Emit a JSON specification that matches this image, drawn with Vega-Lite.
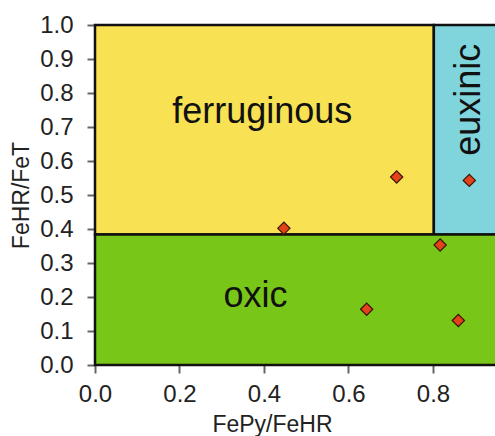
{
  "$schema": "https://vega.github.io/schema/vega-lite/v6.json",
  "autosize": "none",
  "width": 402,
  "height": 340,
  "padding": {"left": 95, "top": 25, "right": 0, "bottom": 71},
  "background": "white",
  "config": {
    "font": "Liberation Sans",
    "view": {"stroke": null},
    "axis": {"grid": false, "domain": false, "tickColor": "#666", "tickWidth": 2, "tickSize": 8, "labelFontSize": 24, "labelColor": "#222", "titleFontSize": 23, "titleFontWeight": "normal", "titleColor": "#222", "labelFont": "Liberation Sans", "titleFont": "Liberation Sans", "labelOverlap": false, "labelBound": false, "labelFlush": false}
  },
  "datasets": {
    "zones": [
      {"zone": "ferruginous", "x0": 0, "x1": 0.802, "y0": 0.384, "y1": 1.0},
      {"zone": "euxinic", "x0": 0.802, "x1": 0.9515, "y0": 0.384, "y1": 1.0},
      {"zone": "oxic", "x0": 0, "x1": 0.9515, "y0": 0, "y1": 0.384}
    ],
    "points": [
      {"fepy": 0.714, "fehr": 0.553},
      {"fepy": 0.886, "fehr": 0.543},
      {"fepy": 0.447, "fehr": 0.402},
      {"fepy": 0.817, "fehr": 0.353},
      {"fepy": 0.643, "fehr": 0.164},
      {"fepy": 0.860, "fehr": 0.131}
    ],
    "labels": [
      {"label": "ferruginous", "lx": 0.396, "ly": 0.712},
      {"label": "oxic", "lx": 0.380, "ly": 0.171}
    ],
    "vlabels": [
      {"label": "euxinic", "lx": 0.911, "ly": 0.78}
    ]
  },
  "layer": [
    {
      "data": {"name": "zones"},
      "mark": {"type": "rect", "stroke": "#111", "strokeWidth": 2.5},
      "encoding": {
        "x": {"field": "x0", "type": "quantitative", "scale": {"domain": [0, 0.9515], "nice": false, "zero": false},
              "axis": {"values": [0, 0.2, 0.4, 0.6, 0.8], "format": ".1f", "title": "FePy/FeHR", "labelPadding": 9, "titlePadding": 7, "titleX": 177}},
        "x2": {"field": "x1"},
        "y": {"field": "y0", "type": "quantitative", "scale": {"domain": [0, 1], "nice": false},
              "axis": {"values": [0, 0.1, 0.2, 0.3, 0.4, 0.5, 0.6, 0.7, 0.8, 0.9, 1.0], "format": ".1f", "title": "FeHR/FeT", "labelPadding": 14, "titlePadding": 6}},
        "y2": {"field": "y1"},
        "color": {"field": "zone", "type": "nominal", "legend": null,
                  "scale": {"domain": ["ferruginous", "euxinic", "oxic"], "range": ["#F8E152", "#80D5DD", "#78C618"]}}
      }
    },
    {
      "data": {"name": "points"},
      "mark": {"type": "point", "shape": "diamond", "filled": true, "fill": "#E2431A", "stroke": "#3a1505", "strokeWidth": 1.2, "size": 150, "opacity": 1},
      "encoding": {
        "x": {"field": "fepy", "type": "quantitative",
              "axis": {"values": [0, 0.2, 0.4, 0.6, 0.8], "format": ".1f", "title": "FePy/FeHR", "labelPadding": 9, "titlePadding": 7, "titleX": 177}},
        "y": {"field": "fehr", "type": "quantitative",
              "axis": {"values": [0, 0.1, 0.2, 0.3, 0.4, 0.5, 0.6, 0.7, 0.8, 0.9, 1.0], "format": ".1f", "title": "FeHR/FeT", "labelPadding": 14, "titlePadding": 6}}
      }
    },
    {
      "data": {"name": "labels"},
      "mark": {"type": "text", "fontSize": 36, "font": "Liberation Sans", "color": "#111", "align": "center", "baseline": "alphabetic"},
      "encoding": {
        "x": {"field": "lx", "type": "quantitative",
              "axis": {"values": [0, 0.2, 0.4, 0.6, 0.8], "format": ".1f", "title": "FePy/FeHR", "labelPadding": 9, "titlePadding": 7, "titleX": 177}},
        "y": {"field": "ly", "type": "quantitative",
              "axis": {"values": [0, 0.1, 0.2, 0.3, 0.4, 0.5, 0.6, 0.7, 0.8, 0.9, 1.0], "format": ".1f", "title": "FeHR/FeT", "labelPadding": 14, "titlePadding": 6}},
        "text": {"field": "label"}
      }
    },
    {
      "data": {"name": "vlabels"},
      "mark": {"type": "text", "fontSize": 36, "font": "Liberation Sans", "color": "#111", "align": "center", "baseline": "alphabetic", "angle": 270},
      "encoding": {
        "x": {"field": "lx", "type": "quantitative",
              "axis": {"values": [0, 0.2, 0.4, 0.6, 0.8], "format": ".1f", "title": "FePy/FeHR", "labelPadding": 9, "titlePadding": 7, "titleX": 177}},
        "y": {"field": "ly", "type": "quantitative",
              "axis": {"values": [0, 0.1, 0.2, 0.3, 0.4, 0.5, 0.6, 0.7, 0.8, 0.9, 1.0], "format": ".1f", "title": "FeHR/FeT", "labelPadding": 14, "titlePadding": 6}},
        "text": {"field": "label"}
      }
    }
  ]
}
